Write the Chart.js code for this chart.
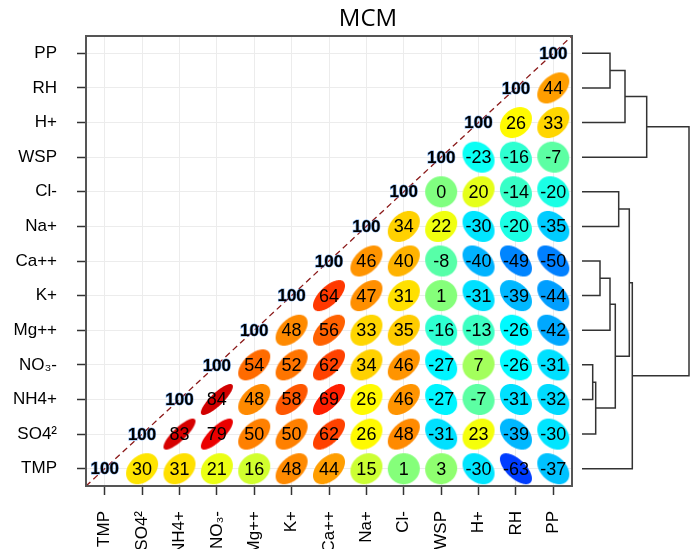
<!DOCTYPE html>
<html><head><meta charset="utf-8">
<script src="https://cdn.jsdelivr.net/npm/chart.js@4.4.0/dist/chart.umd.min.js"></script>
<style>
html,body{margin:0;padding:0;background:#fff;}
#wrap{position:relative;width:698px;height:549px;overflow:hidden;}
#wrap canvas{position:absolute;left:0;top:0;}
</style></head><body>
<div id="wrap"><canvas id="main" width="698" height="549"></canvas><canvas id="dendro" width="698" height="549"></canvas></div>
<script>
// Variables (bottom row / left column first)
const variables = ["TMP","SO4²","NH4+","NO₃-","Mg++","K+","Ca++","Na+","Cl-","WSP","H+","RH","PP"];

// Correlations (x100), each row from its diagonal cell rightwards
const rTMP = [100,30,31,21,16,48,44,15,1,3,-30,-63,-37];
const rSO4 = [100,83,79,50,50,62,26,48,-31,23,-39,-30];
const rNH4 = [100,84,48,58,69,26,46,-27,-7,-31,-32];
const rNO3 = [100,54,52,62,34,46,-27,7,-26,-31];
const rMg  = [100,48,56,33,35,-16,-13,-26,-42];
const rK   = [100,64,47,31,1,-31,-39,-44];
const rCa  = [100,46,40,-8,-40,-49,-50];
const rNa  = [100,34,22,-30,-20,-35];
const rCl  = [100,0,20,-14,-20];
const rWSP = [100,-23,-16,-7];
const rH   = [100,26,33];
const rRH  = [100,44];
const rPP  = [100];
const rows = [rTMP,rSO4,rNH4,rNO3,rMg,rK,rCa,rNa,rCl,rWSP,rH,rRH,rPP];

// Dendrogram (R hclust style: negative = leaf index+1, positive = merge number)
const mergeLeft   = [-4, 1, -7, 3, -13, 4, -9, 5, 7, 9, 8, 11];
const mergeRight  = [-3, -2, -6, -5, -12, 2, -8, -11, 6, -1, -10, 10];
const mergeHeight = [0.107,0.137,0.18,0.28,0.28,0.333,0.367,0.43,0.473,0.503,0.647,1.07];

// ---- build points
const pts = [];
rows.forEach((row,i)=>row.forEach((v,k)=>pts.push({x:i+k, y:i, v:v})));

function clamp(a){return Math.max(0,Math.min(1,a));}
function jet(r){
  const v=(r+1)/2;
  const R=clamp(Math.min(4*v-1.5,-4*v+4.5));
  const G=clamp(Math.min(4*v-0.5,-4*v+3.5));
  const B=clamp(Math.min(4*v+0.5,-4*v+2.5));
  return 'rgb('+Math.round(R*255)+','+Math.round(G*255)+','+Math.round(B*255)+')';
}
function makeEllipse(r, rx, ry){
  const c=document.createElement('canvas');
  c.width=Math.ceil(2*rx+4); c.height=Math.ceil(2*ry+4);
  if (r>=0.999) return c;
  const g=c.getContext('2d');
  const d=Math.acos(r);
  g.translate(c.width/2,c.height/2);
  g.beginPath();
  for(let s=0;s<=120;s++){
    const t=s/120*2*Math.PI;
    const x=rx*Math.cos(t+d/2), y=-ry*Math.cos(t-d/2);
    if(s===0) g.moveTo(x,y); else g.lineTo(x,y);
  }
  g.closePath();
  g.fillStyle=jet(r);
  g.fill();
  return c;
}
let styles = pts.map(p=>makeEllipse(p.v/100,16,15.5));

const font = 'Liberation Sans';

const textPlugin = {
  id:'vals',
  afterDatasetsDraw(chart){
    const ctx=chart.ctx;
    const meta=chart.getDatasetMeta(1);
    ctx.save();
    ctx.textAlign='center'; ctx.textBaseline='middle';
    meta.data.forEach((el,k)=>{
      const v=pts[k].v;
      const s=String(v);
      if(v===100){
        ctx.font='bold 17px "'+font+'"';
        ctx.lineWidth=1.2; ctx.strokeStyle='rgba(70,140,230,0.7)';
        ctx.strokeText(s,el.x,el.y+1);
        ctx.fillStyle='#000';
        ctx.fillText(s,el.x,el.y+1);
      } else {
        ctx.font='18px "'+font+'"';
        ctx.fillStyle='#000';
        ctx.fillText(s,el.x,el.y+1);
      }
    });
    ctx.restore();
  },
  afterDraw(chart){
    const ctx=chart.ctx, a=chart.chartArea;
    ctx.save();
    ctx.strokeStyle='#555'; ctx.lineWidth=2;
    ctx.strokeRect(a.left,a.top,a.right-a.left,a.bottom-a.top);
    ctx.fillStyle='#000';
    ctx.font='24px "Open Sans"';
    ctx.textAlign='center'; ctx.textBaseline='middle';
    ctx.fillText('MCM',368,19);
    ctx.restore();
  }
};

const main = new Chart(document.getElementById('main'),{
  type:'scatter',
  data:{datasets:[
    {type:'line', data:[{x:-0.5,y:-0.5},{x:12.5,y:12.5}], borderColor:'#8B1A1A', borderWidth:1.3, borderDash:[6,4], pointRadius:0, order:2},
    {data:pts, pointStyle:(ctx)=>styles[ctx.dataIndex], pointRadius:16, order:1}
  ]},
  options:{
    responsive:false, animation:false, devicePixelRatio:1,
    layout:{padding:{left:0,top:36,right:126,bottom:0}},
    plugins:{legend:{display:false}, tooltip:{enabled:false}, title:{display:false}},
    scales:{
      x:{type:'linear', min:-0.5, max:12.5,
        afterBuildTicks:s=>{s.ticks=variables.map((_,i)=>({value:i}));},
        afterFit:s=>{s.height=63;},
        ticks:{callback:v=>variables[v], minRotation:90, maxRotation:90, autoSkip:false, padding:16, color:'#000', font:{family:font,size:17}},
        grid:{color:'#ececec', tickColor:'#333', tickLength:9, lineWidth:1, tickWidth:1.5},
        border:{display:false}},
      y:{type:'linear', min:-0.5, max:12.5,
        afterBuildTicks:s=>{s.ticks=variables.map((_,i)=>({value:i}));},
        afterFit:s=>{s.width=86;},
        ticks:{callback:v=>variables[v], autoSkip:false, padding:20, color:'#000', font:{family:font,size:17}},
        grid:{color:'#ececec', tickColor:'#333', tickLength:9, lineWidth:1, tickWidth:1.5},
        border:{display:false}}
    }
  },
  plugins:[textPlugin]
});

// ---- dendrogram
const nodeY=[], nodeH=[];
function node(ref){ return ref<0 ? {h:0,y:-ref-1} : {h:nodeH[ref-1],y:nodeY[ref-1]}; }
const dsets=[];
mergeLeft.forEach((l,k)=>{
  const a=node(l), b=node(mergeRight[k]), h=mergeHeight[k];
  nodeH.push(h); nodeY.push((a.y+b.y)/2);
  dsets.push({data:[{x:a.h,y:a.y},{x:h,y:a.y},{x:h,y:b.y},{x:b.h,y:b.y}], showLine:true, pointRadius:0, borderColor:'#333', borderWidth:1.5, tension:0, clip:false});
});
new Chart(document.getElementById('dendro'),{
  type:'scatter',
  data:{datasets:dsets},
  options:{
    responsive:false, animation:false, devicePixelRatio:1, events:[],
    layout:{padding:{left:582,right:8,top:36,bottom:63}},
    plugins:{legend:{display:false}, tooltip:{enabled:false}},
    scales:{x:{type:'linear',min:0,max:1.08,display:false}, y:{type:'linear',min:-0.5,max:12.5,display:false}}
  }
});
</script>
</body></html>
